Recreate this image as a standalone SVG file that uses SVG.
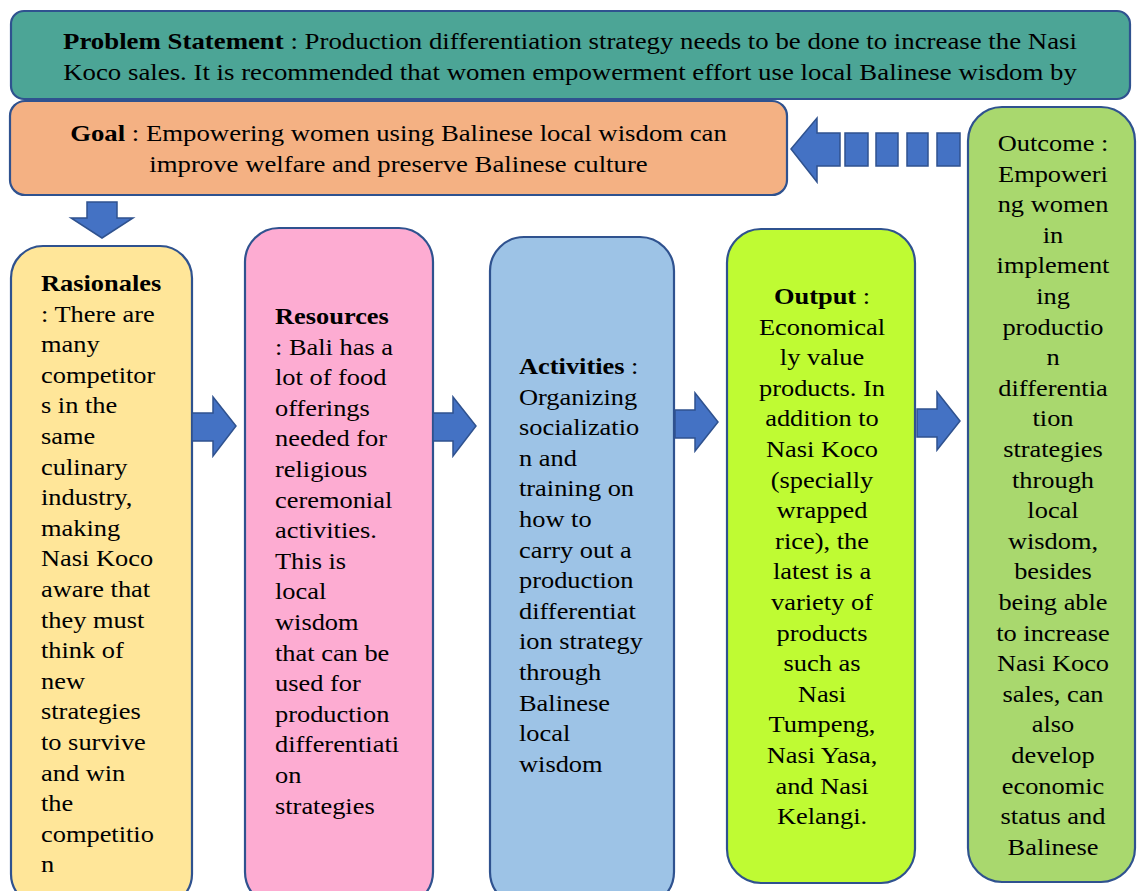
<svg xmlns="http://www.w3.org/2000/svg" width="1137" height="891" viewBox="0 0 1137 891">
<style>
.box{stroke:#2F528F;stroke-width:2.2}
.arrow{fill:#4472C4;stroke:#2F528F;stroke-width:1.5}
text{font-family:"Liberation Serif","Times New Roman",serif;font-size:24px;fill:#000}
.b{font-weight:bold}
.c{text-anchor:middle}
</style>
<rect width="1137" height="891" fill="#ffffff"/>
<g id="problem">
<rect class="box" x="11" y="11" width="1119" height="88" rx="13" fill="#4CA596"/>
<g transform="translate(570,0) scale(1.118,1)">
<text class="c" x="0" y="49"><tspan class="b">Problem Statement</tspan> : Production differentiation strategy needs to be done to increase the Nasi</text>
<text class="c" x="0" y="80">Koco sales. It is recommended that women empowerment effort use local Balinese wisdom by</text>
</g>
</g>
<g id="goal">
<rect class="box" x="10" y="101" width="777" height="94" rx="15" fill="#F4B183"/>
<g transform="translate(398.5,0) scale(1.115,1)">
<text class="c" x="0" y="141"><tspan class="b">Goal</tspan> : Empowering women using Balinese local wisdom can</text>
<text class="c" x="0" y="172">improve welfare and preserve Balinese culture</text>
</g>
</g>
<g id="rasionales">
<rect class="box" x="11" y="246" width="181" height="660" rx="32" fill="#FFE699"/>
<g transform="translate(41,0) scale(1.1,1)">
<text x="0" y="291"><tspan class="b">Rasionales</tspan><tspan x="0" dy="30.6">: There are</tspan><tspan x="0" dy="30.6">many</tspan><tspan x="0" dy="30.6">competitor</tspan><tspan x="0" dy="30.6">s in the</tspan><tspan x="0" dy="30.6">same</tspan><tspan x="0" dy="30.6">culinary</tspan><tspan x="0" dy="30.6">industry,</tspan><tspan x="0" dy="30.6">making</tspan><tspan x="0" dy="30.6">Nasi Koco</tspan><tspan x="0" dy="30.6">aware that</tspan><tspan x="0" dy="30.6">they must</tspan><tspan x="0" dy="30.6">think of</tspan><tspan x="0" dy="30.6">new</tspan><tspan x="0" dy="30.6">strategies</tspan><tspan x="0" dy="30.6">to survive</tspan><tspan x="0" dy="30.6">and win</tspan><tspan x="0" dy="30.6">the</tspan><tspan x="0" dy="30.6">competitio</tspan><tspan x="0" dy="30.6">n</tspan></text>
</g>
</g>
<g id="resources">
<rect class="box" x="245" y="228" width="188" height="678" rx="34" fill="#FDACD2"/>
<g transform="translate(275,0) scale(1.1,1)">
<text x="0" y="324"><tspan class="b">Resources</tspan><tspan x="0" dy="30.6">: Bali has a</tspan><tspan x="0" dy="30.6">lot of food</tspan><tspan x="0" dy="30.6">offerings</tspan><tspan x="0" dy="30.6">needed for</tspan><tspan x="0" dy="30.6">religious</tspan><tspan x="0" dy="30.6">ceremonial</tspan><tspan x="0" dy="30.6">activities.</tspan><tspan x="0" dy="30.6">This is</tspan><tspan x="0" dy="30.6">local</tspan><tspan x="0" dy="30.6">wisdom</tspan><tspan x="0" dy="30.6">that can be</tspan><tspan x="0" dy="30.6">used for</tspan><tspan x="0" dy="30.6">production</tspan><tspan x="0" dy="30.6">differentiati</tspan><tspan x="0" dy="30.6">on</tspan><tspan x="0" dy="30.6">strategies</tspan></text>
</g>
</g>
<g id="activities">
<rect class="box" x="490" y="237" width="184" height="669" rx="34" fill="#9DC3E6"/>
<g transform="translate(519,0) scale(1.1,1)">
<text x="0" y="374"><tspan class="b">Activities</tspan> :<tspan x="0" dy="30.6">Organizing</tspan><tspan x="0" dy="30.6">socializatio</tspan><tspan x="0" dy="30.6">n and</tspan><tspan x="0" dy="30.6">training on</tspan><tspan x="0" dy="30.6">how to</tspan><tspan x="0" dy="30.6">carry out a</tspan><tspan x="0" dy="30.6">production</tspan><tspan x="0" dy="30.6">differentiat</tspan><tspan x="0" dy="30.6">ion strategy</tspan><tspan x="0" dy="30.6">through</tspan><tspan x="0" dy="30.6">Balinese</tspan><tspan x="0" dy="30.6">local</tspan><tspan x="0" dy="30.6">wisdom</tspan></text>
</g>
</g>
<g id="output">
<rect class="box" x="727" y="229" width="188" height="654" rx="34" fill="#BFFB33"/>
<g transform="translate(822,0) scale(1.1,1)">
<text class="c" x="0" y="304"><tspan class="b">Output</tspan> :<tspan x="0" dy="30.6">Economical</tspan><tspan x="0" dy="30.6">ly value</tspan><tspan x="0" dy="30.6">products. In</tspan><tspan x="0" dy="30.6">addition to</tspan><tspan x="0" dy="30.6">Nasi Koco</tspan><tspan x="0" dy="30.6">(specially</tspan><tspan x="0" dy="30.6">wrapped</tspan><tspan x="0" dy="30.6">rice), the</tspan><tspan x="0" dy="30.6">latest is a</tspan><tspan x="0" dy="30.6">variety of</tspan><tspan x="0" dy="30.6">products</tspan><tspan x="0" dy="30.6">such as</tspan><tspan x="0" dy="30.6">Nasi</tspan><tspan x="0" dy="30.6">Tumpeng,</tspan><tspan x="0" dy="30.6">Nasi Yasa,</tspan><tspan x="0" dy="30.6">and Nasi</tspan><tspan x="0" dy="30.6">Kelangi.</tspan></text>
</g>
</g>
<g id="outcome">
<rect class="box" x="968" y="107" width="167" height="775" rx="34" fill="#A9D86E"/>
<g transform="translate(1053,0) scale(1.1,1)">
<text class="c" x="0" y="151">Outcome :<tspan x="0" dy="30.6">Empoweri</tspan><tspan x="0" dy="30.6">ng women</tspan><tspan x="0" dy="30.6">in</tspan><tspan x="0" dy="30.6">implement</tspan><tspan x="0" dy="30.6">ing</tspan><tspan x="0" dy="30.6">productio</tspan><tspan x="0" dy="30.6">n</tspan><tspan x="0" dy="30.6">differentia</tspan><tspan x="0" dy="30.6">tion</tspan><tspan x="0" dy="30.6">strategies</tspan><tspan x="0" dy="30.6">through</tspan><tspan x="0" dy="30.6">local</tspan><tspan x="0" dy="30.6">wisdom,</tspan><tspan x="0" dy="30.6">besides</tspan><tspan x="0" dy="30.6">being able</tspan><tspan x="0" dy="30.6">to increase</tspan><tspan x="0" dy="30.6">Nasi Koco</tspan><tspan x="0" dy="30.6">sales, can</tspan><tspan x="0" dy="30.6">also</tspan><tspan x="0" dy="30.6">develop</tspan><tspan x="0" dy="30.6">economic</tspan><tspan x="0" dy="30.6">status and</tspan><tspan x="0" dy="30.6">Balinese</tspan></text>
</g>
</g>
<g id="connectors">
<polygon class="arrow" points="87,202 117,202 117,218 133,218 102,238 71,218 87,218"/>
<polygon class="arrow" points="192,413 213,413 213,397 236,426 213,456 213,441 192,441"/>
<polygon class="arrow" points="433,413 453,413 453,397 476,426 453,456 453,441 433,441"/>
<polygon class="arrow" points="675,410 695,410 695,393 718,422 695,451 695,438 675,438"/>
<polygon class="arrow" points="917,409 937,409 937,392 960,421 937,450 937,437 917,437"/>
<g id="feedback-arrow">
<polygon class="arrow" points="791,149 817,118 817,133 840,133 840,166 817,166 817,182"/>
<rect class="arrow" x="845" y="133" width="23" height="33"/>
<rect class="arrow" x="876" y="133" width="22" height="33"/>
<rect class="arrow" x="907" y="133" width="21" height="33"/>
<rect class="arrow" x="937" y="133" width="23" height="33"/>
</g>
</g>
</svg>
